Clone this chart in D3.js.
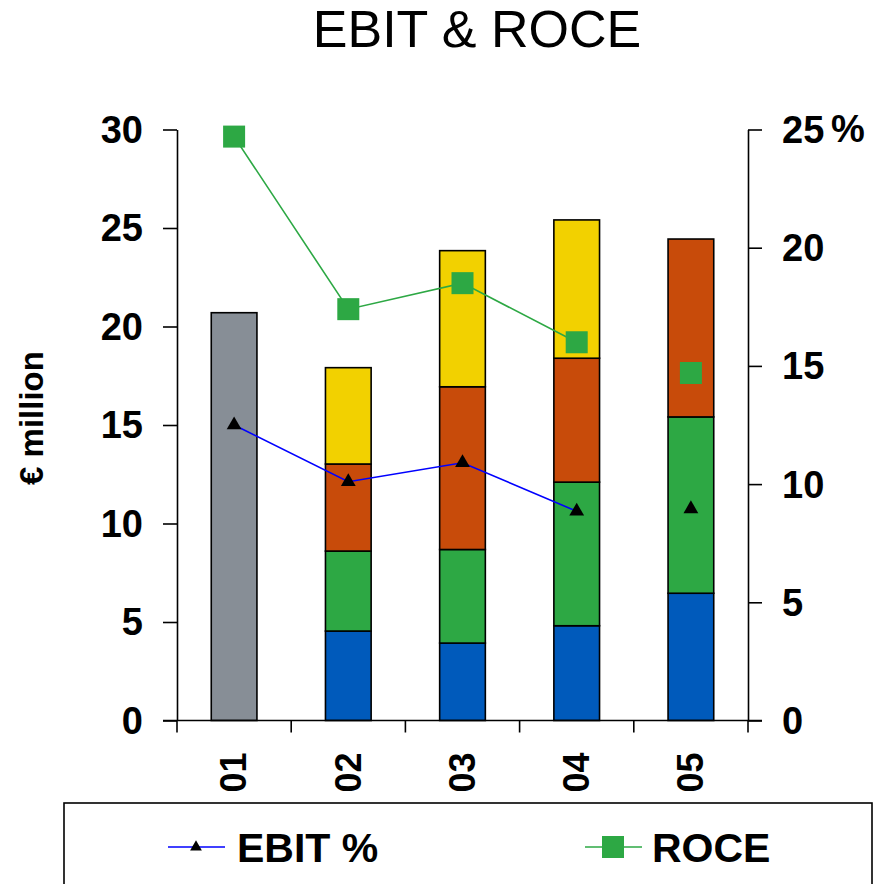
<!DOCTYPE html>
<html>
<head>
<meta charset="utf-8">
<script src="https://cdn.jsdelivr.net/npm/d3@7"></script>
<style>
  html, body { margin: 0; padding: 0; background: #fff; }
  svg { display: block; font-family: "Liberation Sans", Arial, sans-serif; }
</style>
</head>
<body>
<svg id="chart" width="882" height="884"></svg>
<script>
// Years shown on the category axis
const years = ["01", "02", "03", "04", "05"];

// EBIT in € million, one stacked segment per business unit
const groupTotal = [20.7, 0, 0, 0, 0];          // 2001 reported as a single total
const unitA = [0, 4.54, 3.93, 4.81, 6.46];      // bottom segment
const unitB = [0, 4.06, 4.75, 7.29, 8.95];
const unitC = [0, 4.42, 8.26, 6.29, 9.03];
const unitD = [0, 4.89, 6.91, 7.02, 0];         // top segment

// Ratios in %
const ebitPct = [12.5, 10.1, 10.9, 8.85, 8.95];
const rocePct = [24.7, 17.4, 18.5, 16.0, 14.7];

// Only the first years are joined by a line; the last year is a lone marker
const joinedYears = 4;

// Axis ticks
const leftTicks = [0, 5, 10, 15, 20, 25, 30];
const rightTicks = [0, 5, 10, 15, 20, 25];

const seriesKeys = ["groupTotal", "unitA", "unitB", "unitC", "unitD"];
const seriesData = { groupTotal, unitA, unitB, unitC, unitD };
const colors = {
  groupTotal: "#878e96",
  unitA: "#005abb",
  unitB: "#2da844",
  unitC: "#c84b0a",
  unitD: "#f2d100"
};

const svg = d3.select("#chart");

const plot = { left: 177, right: 748, top: 129.5, bottom: 720.5 };

const x = d3.scaleBand().domain(years).range([plot.left, plot.right]).paddingInner(0.6).paddingOuter(0.3);
const xOuter = d3.scaleBand().domain(years).range([plot.left, plot.right]);
const yLeft = d3.scaleLinear().domain([0, 30]).range([plot.bottom, plot.top]);
const yRight = d3.scaleLinear().domain([0, 25]).range([plot.bottom, plot.top]);

// Title
svg.append("text")
  .attr("x", 477).attr("y", 47)
  .attr("text-anchor", "middle")
  .attr("font-size", 52)
  .attr("fill", "#000")
  .text("EBIT & ROCE");

// Stacked bars
const rows = years.map((yr, i) => {
  const r = { year: yr };
  seriesKeys.forEach(k => r[k] = seriesData[k][i]);
  return r;
});
const stack = d3.stack().keys(seriesKeys)(rows);

svg.append("g").selectAll("g")
  .data(stack)
  .join("g")
  .attr("fill", d => colors[d.key])
  .selectAll("rect")
  .data(d => d.filter(s => s[1] - s[0] > 0))
  .join("rect")
  .attr("x", d => x(d.data.year))
  .attr("width", x.bandwidth())
  .attr("y", d => yLeft(d[1]))
  .attr("height", d => yLeft(d[0]) - yLeft(d[1]))
  .attr("stroke", "#000")
  .attr("stroke-width", 1.6);

// Axes
const axisStyle = g => {
  g.select(".domain").attr("stroke", "#000").attr("stroke-width", 1.6);
  g.selectAll(".tick line").attr("stroke", "#000").attr("stroke-width", 1.6);
  g.selectAll(".tick text").attr("fill", "#000").attr("font-weight", "bold").attr("font-size", 38);
};

const leftAxis = svg.append("g")
  .attr("transform", `translate(${plot.left},0)`)
  .call(d3.axisLeft(yLeft).tickValues(leftTicks).tickSize(14).tickPadding(20).tickSizeOuter(0))
  .call(axisStyle);
leftAxis.selectAll(".tick text").attr("dy", "0.34em");

const rightAxis = svg.append("g")
  .attr("transform", `translate(${plot.right},0)`)
  .call(d3.axisRight(yRight).tickValues(rightTicks).tickSize(14).tickPadding(20).tickSizeOuter(0))
  .call(axisStyle);
rightAxis.selectAll(".tick text").attr("dy", "0.34em");

// Percent sign beside the top right tick label
svg.append("text")
  .attr("x", 831).attr("y", yRight(25))
  .attr("dy", "0.34em")
  .attr("font-size", 38).attr("font-weight", "bold")
  .text("%");

// Category axis: boundary ticks between years, labels rotated
const xAxisG = svg.append("g").attr("transform", `translate(0,${plot.bottom})`);
xAxisG.append("line")
  .attr("x1", plot.left - 14).attr("x2", plot.right + 14)
  .attr("stroke", "#000").attr("stroke-width", 1.6);
const boundaries = years.map(yr => xOuter(yr)).concat([plot.right]);
xAxisG.selectAll("line.bound")
  .data(boundaries)
  .join("line")
  .attr("class", "bound")
  .attr("x1", d => d).attr("x2", d => d)
  .attr("y1", 0).attr("y2", 12)
  .attr("stroke", "#000").attr("stroke-width", 1.6);
xAxisG.selectAll("text")
  .data(years)
  .join("text")
  .attr("transform", d => `translate(${x(d) + x.bandwidth() / 2},32) rotate(-90)`)
  .attr("text-anchor", "end")
  .attr("dy", "0.34em")
  .attr("font-size", 36).attr("font-weight", "bold")
  .text(d => d);

// Left axis title
svg.append("text")
  .attr("transform", "translate(31,418) rotate(-90)")
  .attr("text-anchor", "middle")
  .attr("dy", "0.35em")
  .attr("font-size", 33).attr("font-weight", "bold")
  .text("€ million");

// Ratio lines
const cx = d => x(d) + x.bandwidth() / 2;
const line = d3.line().x(d => cx(d.year)).y(d => yRight(d.v));

const ebitPts = years.map((yr, i) => ({ year: yr, v: ebitPct[i] }));
const rocePts = years.map((yr, i) => ({ year: yr, v: rocePct[i] }));

svg.append("path")
  .attr("d", line(rocePts.slice(0, joinedYears)))
  .attr("fill", "none").attr("stroke", "#2da844").attr("stroke-width", 1.6);
svg.append("path")
  .attr("d", line(ebitPts.slice(0, joinedYears)))
  .attr("fill", "none").attr("stroke", "#0000ff").attr("stroke-width", 1.6);

svg.append("g").selectAll("rect")
  .data(rocePts)
  .join("rect")
  .attr("x", d => cx(d.year) - 11).attr("y", d => yRight(d.v) - 11)
  .attr("width", 22).attr("height", 22)
  .attr("fill", "#2da844");

const tri = d3.symbol().type(d3.symbolTriangle).size(95);
svg.append("g").selectAll("path")
  .data(ebitPts)
  .join("path")
  .attr("transform", d => `translate(${cx(d.year)},${yRight(d.v)})`)
  .attr("d", tri)
  .attr("fill", "#000");

// Legend
const legend = svg.append("g");
legend.append("rect")
  .attr("x", 64).attr("y", 803)
  .attr("width", 808).attr("height", 120)
  .attr("fill", "none").attr("stroke", "#000").attr("stroke-width", 1.6);

legend.append("line")
  .attr("x1", 168).attr("x2", 225).attr("y1", 847).attr("y2", 847)
  .attr("stroke", "#0000ff").attr("stroke-width", 1.6);
legend.append("path")
  .attr("transform", "translate(196,847)")
  .attr("d", d3.symbol().type(d3.symbolTriangle).size(60))
  .attr("fill", "#000");
legend.append("text")
  .attr("x", 237).attr("y", 862)
  .attr("font-size", 41).attr("font-weight", "bold")
  .text("EBIT %");

legend.append("line")
  .attr("x1", 585).attr("x2", 642).attr("y1", 847).attr("y2", 847)
  .attr("stroke", "#2da844").attr("stroke-width", 1.6);
legend.append("rect")
  .attr("x", 602).attr("y", 836).attr("width", 22).attr("height", 22)
  .attr("fill", "#2da844");
legend.append("text")
  .attr("x", 652).attr("y", 862)
  .attr("font-size", 41).attr("font-weight", "bold")
  .text("ROCE");
</script>
</body>
</html>
